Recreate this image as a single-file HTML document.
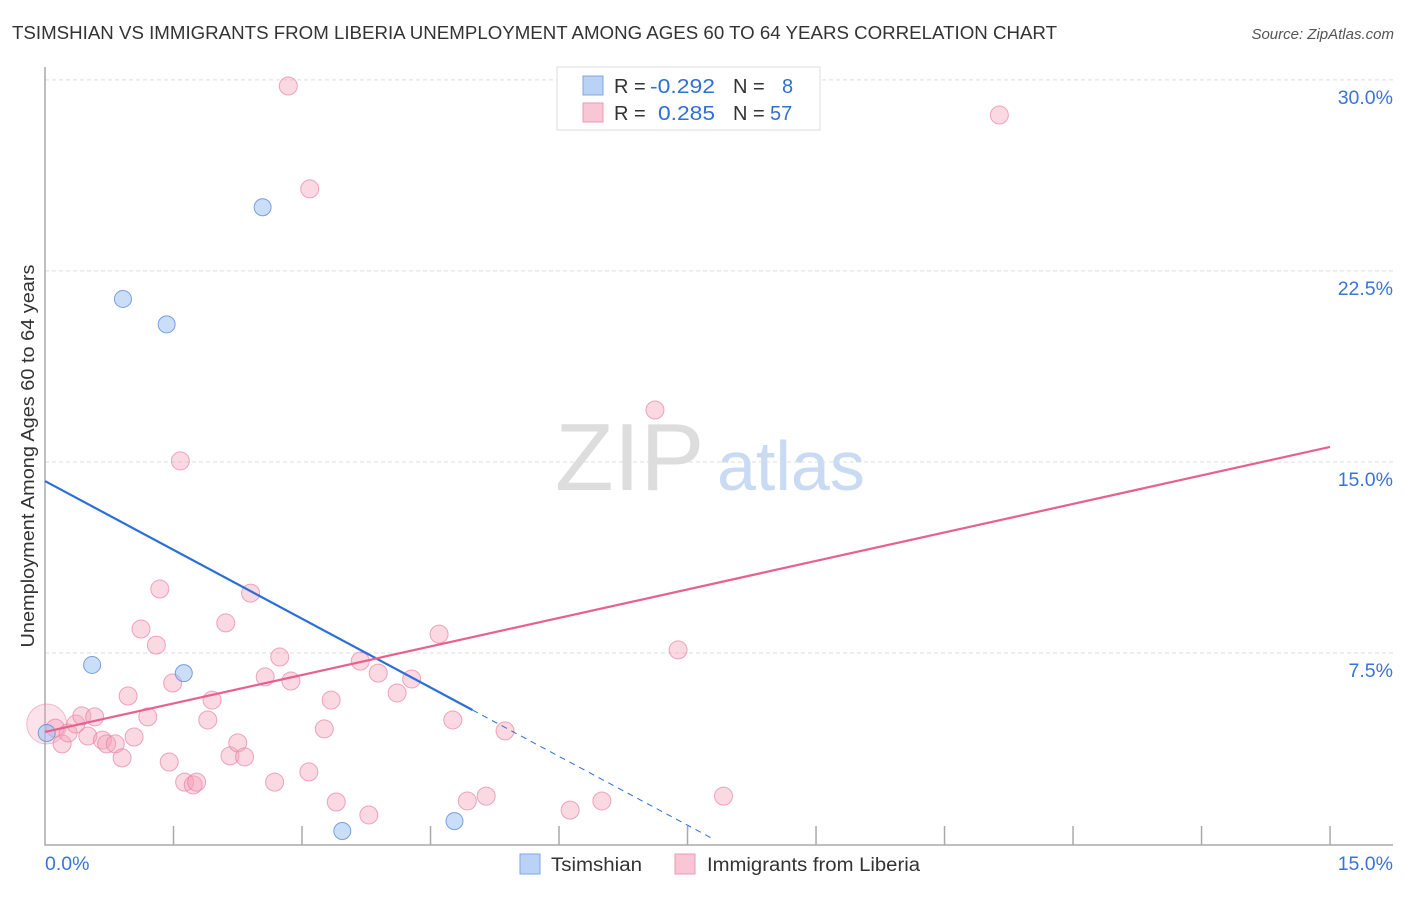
<!DOCTYPE html>
<html><head><meta charset="utf-8"><style>
body{margin:0;background:#fff;font-family:"Liberation Sans",sans-serif;}
svg text{font-family:"Liberation Sans",sans-serif;}
</style></head><body>
<svg id="c" width="1406" height="892" xmlns="http://www.w3.org/2000/svg">
<text x="12" y="39" font-size="18" fill="#333" textLength="1045" lengthAdjust="spacingAndGlyphs">TSIMSHIAN VS IMMIGRANTS FROM LIBERIA UNEMPLOYMENT AMONG AGES 60 TO 64 YEARS CORRELATION CHART</text>
<text x="1394" y="39" font-size="15" fill="#555" font-style="italic" text-anchor="end">Source: ZipAtlas.com</text>
<text x="555" y="490" font-size="96" fill="#ddd" font-family="Liberation Serif,serif">ZIP</text>
<text x="717" y="490" font-size="70" fill="#c9daf3">atlas</text>
<text transform="translate(34,456) rotate(-90)" font-size="18.5" fill="#333" text-anchor="middle" textLength="383" lengthAdjust="spacingAndGlyphs">Unemployment Among Ages 60 to 64 years</text>
<g id="grid"></g><g id="pts"></g><g id="lines"></g>
<g>
<rect x="557" y="67" width="263" height="63" fill="#fff" stroke="#ddd"/>
<rect x="583" y="76" width="20" height="19" fill="#b9d2f5" stroke="#7aa7e6"/>
<rect x="583" y="103" width="20" height="19" fill="#f9c6d5" stroke="#ec9ab4"/>
<text x="614" y="93" font-size="20" fill="#333">R = <tspan x="650" fill="#2f6fd6" textLength="65" lengthAdjust="spacingAndGlyphs">-0.292</tspan><tspan x="733">N = </tspan><tspan x="782" fill="#2f6fd6">8</tspan></text>
<text x="614" y="120" font-size="20" fill="#333">R = <tspan x="658" fill="#2f6fd6" textLength="57" lengthAdjust="spacingAndGlyphs">0.285</tspan><tspan x="733">N = </tspan><tspan x="770" fill="#2f6fd6">57</tspan></text>
</g>
<g>
<rect x="520" y="854" width="20" height="20" fill="#b9d2f5" stroke="#7aa7e6"/>
<text x="551" y="871" font-size="19" fill="#333" textLength="91" lengthAdjust="spacingAndGlyphs">Tsimshian</text>
<rect x="675" y="854" width="20" height="20" fill="#f9c6d5" stroke="#ec9ab4"/>
<text x="707" y="871" font-size="19" fill="#333" textLength="213" lengthAdjust="spacingAndGlyphs">Immigrants from Liberia</text>
</g>
</svg>
<script>
const yTicks=[7.5,15,22.5,30];
const yTickLabels=["7.5%","15.0%","22.5%","30.0%"];
const blueX=[0.02,0.55,0.91,1.42,1.62,2.54,3.47,4.78];
const blueY=[4.36,7.03,21.4,20.4,6.71,25.0,0.51,0.9];
const pinkX=[0.12,0.20,0.27,0.36,0.43,0.58,0.50,0.67,0.72,0.82,0.90,0.97,1.04,1.12,1.20,1.30,1.34,1.45,1.49,1.58,1.63,1.73,1.77,1.90,1.95,2.11,2.16,2.25,2.33,2.40,2.57,2.68,2.74,2.87,3.08,3.26,3.34,3.40,2.84,3.09,3.68,3.78,3.89,4.11,4.28,4.60,4.76,4.93,5.15,5.37,6.13,6.50,7.12,7.39,7.92,11.14];
const pinkY=[4.55,3.93,4.36,4.71,5.03,4.99,4.24,4.08,3.93,3.93,3.38,5.81,4.20,8.44,4.99,7.81,10.01,3.22,6.32,15.04,2.43,2.32,2.43,4.87,5.65,8.68,3.46,3.97,3.42,9.85,6.56,2.43,7.34,6.40,2.83,4.52,5.65,1.65,29.76,25.72,7.18,1.14,6.71,5.93,6.48,8.24,4.87,1.69,1.88,4.44,1.33,1.69,17.04,7.62,1.88,28.62];
const bigPink=[0.02,4.71];
const blueLine=[14.25,5.26,4.99,7.8];
const pinkLine=[4.4,15.59];
const X=v=>45+v*85.67, Y=v=>844-v*25.47;
const NS="http://www.w3.org/2000/svg";
function mk(t,a,p){const e=document.createElementNS(NS,t);for(const k in a)e.setAttribute(k,a[k]);p.appendChild(e);return e;}
const g=document.getElementById('grid');
yTicks.forEach((t,i)=>{
 const l=mk('line',{x1:45,x2:1393,y1:Y(t),y2:Y(t),stroke:'#ddd','stroke-dasharray':'4,3'},g);
 
 
 const tx=mk('text',{x:1393,y:Y(t)+24,'font-size':19.5,fill:'#3a74d6','text-anchor':'end'},g);
 tx.textContent=yTickLabels[i];
 
 
});
const ax=mk('path',{d:'M45 67 V845 H1393',stroke:'#aaa',fill:'none','stroke-width':1.5},g);


for(let i=1;i<=10;i++){const t=mk('line',{x1:X(i*1.5),x2:X(i*1.5),y1:826,y2:845,stroke:'#aaa','stroke-width':1.5},g);
 
 }
const xl=mk('text',{x:45,y:870,'font-size':19.5,fill:'#3a74d6'},g);xl.textContent='0.0%';


const xr=mk('text',{x:1393,y:870,'font-size':19.5,fill:'#3a74d6','text-anchor':'end'},g);xr.textContent='15.0%';


const p=document.getElementById('pts');
const bp=mk('circle',{cx:X(bigPink[0]),cy:Y(bigPink[1]),r:20,fill:'rgba(244,160,185,0.3)',stroke:'rgba(232,130,165,0.5)'},p);


pinkX.forEach((x,i)=>{const c=mk('circle',{cx:X(x),cy:Y(pinkY[i]),r:9,fill:'rgba(244,160,185,0.4)',stroke:'rgba(232,130,165,0.7)'},p);
 
 });
blueX.forEach((x,i)=>{const c=mk('circle',{cx:X(x),cy:Y(blueY[i]),r:8.5,fill:'rgba(160,195,240,0.55)',stroke:'rgba(90,140,220,0.8)'},p);
 
 });
const L=document.getElementById('lines');
const s=(blueLine[1]-blueLine[0])/blueLine[2];
const b1=mk('line',{x1:X(0),y1:Y(blueLine[0]),x2:X(blueLine[2]),y2:Y(blueLine[1]),stroke:'#2a6fd8','stroke-width':2.2},L);


const b2=mk('line',{x1:X(blueLine[2]),y1:Y(blueLine[1]),x2:X(blueLine[3]),y2:Y(blueLine[0]+s*blueLine[3]),stroke:'#2a6fd8','stroke-width':1,'stroke-dasharray':'6,5'},L);


const pl=mk('line',{x1:X(0),y1:Y(pinkLine[0]),x2:X(15),y2:Y(pinkLine[1]),stroke:'#e8608e','stroke-width':2.2},L);


</script>
</body></html>
